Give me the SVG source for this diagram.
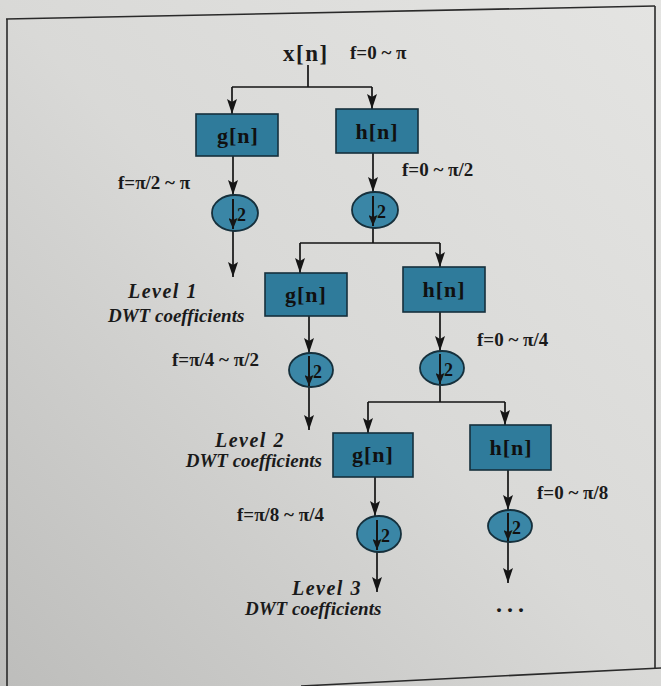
<svg xmlns="http://www.w3.org/2000/svg" width="661" height="686" viewBox="0 0 661 686">
  <defs>
    <linearGradient id="paper" x1="1" y1="0" x2="0" y2="1">
      <stop offset="0" stop-color="#e4e4e2"/>
      <stop offset="0.5" stop-color="#d9d9d7"/>
      <stop offset="1" stop-color="#bdbdbb"/>
    </linearGradient>
    <marker id="arrow" markerUnits="userSpaceOnUse" markerWidth="16" markerHeight="10" refX="15" refY="5" orient="auto">
      <path d="M0,0 L15,5 L0,10 L3,5 z" fill="#151515"/>
    </marker>
    <marker id="arrow-small" markerUnits="userSpaceOnUse" markerWidth="12" markerHeight="9" refX="11" refY="4.5" orient="auto">
      <path d="M0,0 L11,4.5 L0,9 L2,4.5 z" fill="#151515"/>
    </marker>
    <style>
      .frame { fill: none; stroke: #2a2a2a; stroke-width: 1.6; }
      .filter { fill: #2f7b9b; stroke: #16303c; stroke-width: 1.6; }
      .down { fill: #3a86a6; stroke: #16303c; stroke-width: 1.8; }
      .wire { fill: none; stroke: #151515; stroke-width: 1.7; }
      .arrowed { marker-end: url(#arrow); }
      .inner { fill: none; stroke: #151515; stroke-width: 2; marker-end: url(#arrow-small); }
      .lbl { font-family: "Liberation Serif", "Times New Roman", serif; font-weight: bold; fill: #1a1a1a; }
      .box-lbl { font-family: "Liberation Serif", "Times New Roman", serif; font-weight: bold; font-size: 22px; letter-spacing: 1px; fill: #101010; text-anchor: middle; }
      .freq { font-size: 19px; }
      .two { font-family: "Liberation Serif", "Times New Roman", serif; font-weight: bold; font-size: 18px; fill: #101010; }
      .coef { font-family: "Liberation Serif", "Times New Roman", serif; font-weight: bold; font-style: italic; font-size: 19px; fill: #1a1a1a; }
      .lvl { letter-spacing: 1.5px; font-size: 20px; }
    </style>
  </defs>

  <!-- page background and printed frame -->
  <rect x="0" y="0" width="661" height="686" fill="url(#paper)"/>
  <g id="frame">
    <path class="frame" d="M6,19 L655,6"/>
    <path class="frame" d="M7,19 L7,686"/>
    <path class="frame" d="M655,6 L655,668"/>
    <path class="frame" d="M301,686 L661,668"/>
  </g>

  <!-- connectors -->
  <g id="connectors">
    <path class="wire" d="M308,65 V87 M232,87 H372"/>
    <path class="wire arrowed" d="M232,87 V114"/>
    <path class="wire arrowed" d="M372,87 V109"/>

    <path class="wire arrowed" d="M233,156 V195"/>
    <path class="wire arrowed" d="M233,231 V277"/>
    <path class="wire arrowed" d="M373,153 V192"/>

    <path class="wire" d="M373,228 V243 M300,243 H440"/>
    <path class="wire arrowed" d="M300,243 V273"/>
    <path class="wire arrowed" d="M440,243 V267"/>

    <path class="wire arrowed" d="M309,316 V353"/>
    <path class="wire arrowed" d="M309,387 V430"/>
    <path class="wire arrowed" d="M440,312 V351"/>

    <path class="wire" d="M440,385 V402 M368,402 H505"/>
    <path class="wire arrowed" d="M368,402 V433"/>
    <path class="wire arrowed" d="M505,402 V425"/>

    <path class="wire arrowed" d="M375,477 V516"/>
    <path class="wire arrowed" d="M377,552 V592"/>
    <path class="wire arrowed" d="M508,470 V510"/>
    <path class="wire arrowed" d="M508,542 V583"/>
  </g>

  <!-- input -->
  <g id="input">
    <text class="lbl" x="283" y="61" font-size="23" letter-spacing="1.5">x[n]</text>
    <text class="lbl freq" x="350" y="59">f=0 ~ π</text>
  </g>

  <!-- level 1 -->
  <g id="g1">
    <rect class="filter" x="196" y="114" width="82" height="42"/>
    <text class="box-lbl" x="238" y="143">g[n]</text>
  </g>
  <g id="h1">
    <rect class="filter" x="336" y="109" width="82" height="44"/>
    <text class="box-lbl" x="377" y="139">h[n]</text>
  </g>
  <g id="d1">
    <ellipse class="down" cx="235" cy="213" rx="23" ry="18"/>
    <path class="inner" d="M233,199 V229"/>
    <text class="two" x="237" y="221">2</text>
  </g>
  <g id="d2">
    <ellipse class="down" cx="375" cy="210" rx="23" ry="18"/>
    <path class="inner" d="M373,196 V226"/>
    <text class="two" x="377" y="218">2</text>
  </g>
  <text class="lbl freq" x="118" y="189">f=π/2 ~ π</text>
  <text class="lbl freq" x="402" y="176">f=0 ~ π/2</text>
  <g id="level1">
    <text class="coef lvl" x="128" y="298">Level 1</text>
    <text class="coef" x="108" y="322">DWT coefficients</text>
  </g>

  <!-- level 2 -->
  <g id="g2">
    <rect class="filter" x="265" y="273" width="82" height="43"/>
    <text class="box-lbl" x="306" y="302">g[n]</text>
  </g>
  <g id="h2">
    <rect class="filter" x="403" y="267" width="82" height="45"/>
    <text class="box-lbl" x="444" y="297">h[n]</text>
  </g>
  <g id="d3">
    <ellipse class="down" cx="311" cy="370" rx="22" ry="17"/>
    <path class="inner" d="M309,356 V386"/>
    <text class="two" x="313" y="378">2</text>
  </g>
  <g id="d4">
    <ellipse class="down" cx="442" cy="368" rx="22" ry="17"/>
    <path class="inner" d="M440,354 V384"/>
    <text class="two" x="444" y="376">2</text>
  </g>
  <text class="lbl freq" x="172" y="366">f=π/4 ~ π/2</text>
  <text class="lbl freq" x="477" y="346">f=0 ~ π/4</text>
  <g id="level2">
    <text class="coef lvl" x="215" y="447">Level 2</text>
    <text class="coef" x="322" y="467" text-anchor="end">DWT coefficients</text>
  </g>

  <!-- level 3 -->
  <g id="g3">
    <rect class="filter" x="333" y="433" width="80" height="44"/>
    <text class="box-lbl" x="373" y="462">g[n]</text>
  </g>
  <g id="h3">
    <rect class="filter" x="470" y="425" width="81" height="45"/>
    <text class="box-lbl" x="511" y="455">h[n]</text>
  </g>
  <g id="d5">
    <ellipse class="down" cx="379" cy="534" rx="22" ry="18"/>
    <path class="inner" d="M377,520 V550"/>
    <text class="two" x="381" y="542">2</text>
  </g>
  <g id="d6">
    <ellipse class="down" cx="510" cy="526" rx="22" ry="16"/>
    <path class="inner" d="M508,513 V541"/>
    <text class="two" x="512" y="534">2</text>
  </g>
  <text class="lbl freq" x="237" y="521">f=π/8 ~ π/4</text>
  <text class="lbl freq" x="537" y="499">f=0 ~ π/8</text>
  <g id="level3">
    <text class="coef lvl" x="292" y="595">Level 3</text>
    <text class="coef" x="245" y="615">DWT coefficients</text>
  </g>
  <text class="lbl" x="496" y="612" font-size="24" letter-spacing="5">...</text>
</svg>
